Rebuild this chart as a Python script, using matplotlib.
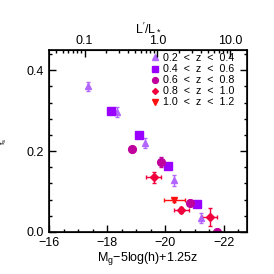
import numpy as np
import matplotlib
matplotlib.use('Agg')
import matplotlib.pyplot as plt
from matplotlib.lines import Line2D
from matplotlib.ticker import MultipleLocator, FixedLocator, NullFormatter

plt.rcParams['font.family'] = ['Liberation Sans', 'DejaVu Sans']
plt.rcParams['mathtext.fontset'] = 'custom'
plt.rcParams['mathtext.rm'] = 'Liberation Sans'
plt.rcParams['mathtext.it'] = 'Liberation Sans:italic'

# magnitude of L* used for the top axis
Mstar = -19.72

labels = ['0.2  <  z  <  0.4', '0.4  <  z  <  0.6', '0.6  <  z  <  0.8',
          '0.8  <  z  <  1.0', '1.0  <  z  <  1.2']
colors = ['#b366ff', '#9900ff', '#c0009c', '#f0003c', '#ff1010']
markers = ['^', 's', 'o', 'D', 'v']
msizes = [5, 5.2, 5.6, 4, 5]

mag_02 = [-17.34, -18.34, -19.31, -20.28, -21.21]
fs_02 = [0.360, 0.297, 0.220, 0.128, 0.035]
xerr_02 = [0.0, 0.0, 0.0, 0.0, 0.0]
yerr_02 = [0.012, 0.012, 0.012, 0.014, 0.012]

mag_04 = [-18.14, -19.10, -20.07, -21.07]
fs_04 = [0.300, 0.240, 0.163, 0.070]
xerr_04 = [0.0, 0.0, 0.0, 0.0]
yerr_04 = [0.006, 0.006, 0.006, 0.006]

mag_06 = [-18.86, -19.83, -20.83, -21.76]
fs_06 = [0.205, 0.173, 0.072, 0.001]
xerr_06 = [0.0, 0.0, 0.0, 0.0]
yerr_06 = [0.006, 0.012, 0.006, 0.006]

mag_08 = [-19.59, -20.55, -21.52]
fs_08 = [0.135, 0.055, 0.038]
xerr_08 = [0.25, 0.25, 0.25]
yerr_08 = [0.014, 0.008, 0.022]

mag_10 = [-20.31]
fs_10 = [0.078]
xerr_10 = [0.35]
yerr_10 = [0.005]

mags = [mag_02, mag_04, mag_06, mag_08, mag_10]
fss = [fs_02, fs_04, fs_06, fs_08, fs_10]
xerrs = [xerr_02, xerr_04, xerr_06, xerr_08, xerr_10]
yerrs = [yerr_02, yerr_04, yerr_06, yerr_08, yerr_10]

fig = plt.figure(figsize=(2.74, 2.74), dpi=100)
ax = fig.add_axes([49/274, 42/274, 198/274, 182/274])

handles = []
for i in range(len(labels)):
    ax.errorbar(mags[i], fss[i], xerr=xerrs[i], yerr=yerrs[i], fmt=markers[i],
                color=colors[i], ms=msizes[i], mec=colors[i], elinewidth=1,
                capsize=1.5, capthick=1)
    handles.append(Line2D([], [], ls='none', marker=markers[i], color=colors[i],
                          ms=msizes[i] * 0.75, label=labels[i]))

ax.set_xlim(-16, -22.8)
ax.set_ylim(0, 0.45)
ax.xaxis.set_major_locator(MultipleLocator(2))
ax.xaxis.set_minor_locator(MultipleLocator(0.5))
ax.yaxis.set_major_locator(FixedLocator([0.0, 0.2, 0.4]))
ax.yaxis.set_minor_locator(MultipleLocator(0.04))
ax.tick_params(which='both', direction='in', right=True, labelsize=9, width=1)
ax.tick_params(which='major', length=5)
ax.tick_params(which='minor', length=2.5)
ax.xaxis.set_major_formatter(plt.FuncFormatter(lambda v, p: '\u2212%d' % abs(v) if v < 0 else '%d' % v))
ax.yaxis.set_major_formatter(plt.FuncFormatter(lambda v, p: '%.1f' % v))
for s in ax.spines.values():
    s.set_linewidth(1.2)

ax.set_xlabel(r'M$_{\rm g}$$-$5log(h)+1.25z', fontsize=9, labelpad=1)
ax.set_ylabel(r'f$_{\rm s}$', fontsize=6)
ax.yaxis.set_label_coords(-0.2, 0.5)

# top axis in units of L/L*
ax2 = ax.twiny()
ax2.set_xscale('log')
lum = lambda m: 10 ** (-0.4 * (m - Mstar))
ax2.set_xlim(lum(-16), lum(-22.8))
ax2.set_xticks([0.1, 1.0, 10.0])
ax2.set_xticklabels(['0.1', '1.0', '10.0'])
ax2.tick_params(which='both', direction='in', labelsize=9, width=1, pad=2)
ax2.tick_params(which='major', length=5)
ax2.tick_params(which='minor', length=2.5)
ax2.xaxis.set_minor_formatter(NullFormatter())
ax2.set_xlabel(r"L$'$/L$_*$", fontsize=9, labelpad=2)

ax.legend(handles=handles, loc='upper left', bbox_to_anchor=(0.505, 1.0),
          frameon=False, fontsize=7.7, handlelength=0.6, handletextpad=0.45,
          labelspacing=0.1, borderaxespad=0.2, borderpad=0.1)

fig.savefig('out.png', dpi=100)
